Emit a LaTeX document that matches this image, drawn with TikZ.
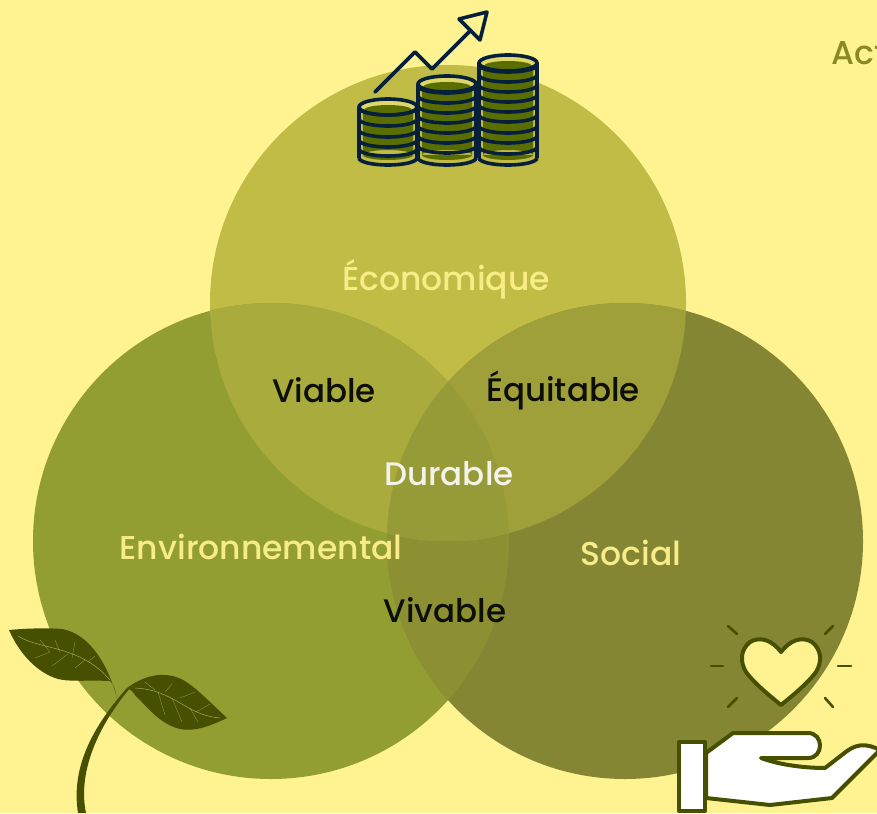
\documentclass[tikz,border=0pt]{standalone}
\usepackage{fontspec}
\setmainfont{Poppins Medium}
\definecolor{fondo}{HTML}{FFF391}
\definecolor{circE}{HTML}{C1BC45}
\definecolor{circA}{HTML}{929D32}
\definecolor{circS}{HTML}{848633}
\definecolor{solapaEA}{HTML}{A9AB3C}
\definecolor{solapaES}{HTML}{A0A03B}
\definecolor{solapaC}{HTML}{979B37}
\definecolor{solapaAS}{HTML}{8C9033}
\definecolor{oscuro}{HTML}{465000}
\definecolor{moneda}{HTML}{5A6E00}
\definecolor{marino}{HTML}{06203C}
\definecolor{vena}{HTML}{A8A85A}
\definecolor{textoA}{HTML}{8A8A25}
\tikzset{
  etiqueta/.style={font=\fontsize{33}{39}\selectfont,text=fondo!88!circE,inner sep=0pt},
  interior/.style={font=\fontsize{32.5}{39}\selectfont,text=black!90!circS,inner sep=0pt},
  raya/.style={draw=oscuro,line width=2.6pt,line cap=round},
  linea/.style={draw=oscuro,line width=4pt,line join=round},
  aro/.style={draw=marino,line width=3.6pt}
}
\begin{document}
\begin{tikzpicture}[x=1pt,y=-1pt]
    \useasboundingbox (0,0) rectangle (877,813);
    \clip (0,0) rectangle (877,813);
    \fill[fondo] (0,0) rectangle (877,813);

    \fill[circE] (448,303) circle (238);
    \fill[circA] (271,541) circle (238);
    \fill[circS] (625,541) circle (238);
    \begin{scope}
    \clip (271,541) circle (238);
    \fill[solapaAS] (625,541) circle (238);
    \end{scope}
    \begin{scope}
    \clip (448,303) circle (238);
    \fill[solapaEA] (271,541) circle (238);
    \fill[solapaES] (625,541) circle (238);
    \clip (271,541) circle (238);
    \fill[solapaC] (625,541) circle (238);
    \end{scope}

    % monedas
    \foreach \cx/\top/\rings in {508/63/{72,82,92,102,112,122,133,143,154,165},447/84/{93,103,113,123,133,143,153,165},388/107/{115,126,137,147,156,165}} {
      \fill[circE] (\cx-29,\top) rectangle (\cx+29,158) (\cx,158) ellipse (29 and 7);
      \fill[fondo!50!circE] (\cx,\top) ellipse (29 and 8);
      \fill[moneda] (\cx,\top+3) ellipse (24 and 5);
      \fill[moneda] (\cx-25,\top+3) rectangle (\cx+25,155) (\cx,155) ellipse (25 and 5);
      \draw[aro] (\cx-29,\top) -- (\cx-29,158) (\cx+29,\top) -- (\cx+29,158);
      \draw[aro] (\cx,\top) ellipse (29 and 8);
      \foreach \r in \rings
      \draw[aro] (\cx-29,\r-7) arc[start angle=180,end angle=0,x radius=29,y radius=7];
    }
    \draw[marino,line width=3.6pt,line cap=round,line join=round] (375,92) -- (415,52) -- (432,69) -- (469,32);
    \draw[marino,line width=3.6pt,line join=round] (459,19) -- (487,12) -- (480,40) -- cycle;

    % hojas
    \fill[oscuro] (78,813) .. controls (72,775) and (85,735) .. (127,688)
      -- (130,688) .. controls (95,730) and (78,775) .. (86,813) -- cycle;
    \fill[oscuro] (9,630) .. controls (30,628) and (50,628) .. (62,629)
      .. controls (90,634) and (108,665) .. (117,698)
      .. controls (115,690) and (114,684) .. (110,681)
      .. controls (90,680) and (70,682) .. (58,679)
      .. controls (38,673) and (20,655) .. (9,630) -- cycle;
    \fill[oscuro] (127,688) .. controls (140,678) and (155,674) .. (165,675)
      .. controls (185,676) and (195,688) .. (227,718)
      .. controls (210,726) and (195,732) .. (180,729)
      .. controls (160,724) and (148,708) .. (135,695)
      .. controls (132,691) and (130,689) .. (127,688) -- cycle;
    \draw[vena,line width=0.5pt] (18,636) .. controls (40,650) and (80,645) .. (110,680);
    \draw[vena,line width=0.25pt] (50,652) -- (40,640) (60,652) -- (55,640) (72,658) -- (75,642)
      (88,662) -- (95,656) (50,652) -- (35,658) (68,654) -- (52,666) (85,660) -- (75,668);
    \draw[vena,line width=0.5pt] (135,688) .. controls (175,690) and (185,715) .. (220,718);
    \draw[vena,line width=0.25pt] (155,690) -- (145,682) (165,692) -- (172,684) (180,698) -- (195,692)
      (158,692) -- (165,715) (172,698) -- (182,722) (190,708) -- (198,722) (196,712) -- (210,704);

    % corazon
    \filldraw[linea,fill=fondo] (781,652) .. controls (772,640) and (760,636) .. (750,642)
      .. controls (740,650) and (740,662) .. (746,672)
      .. controls (755,684) and (770,696) .. (781,705)
      .. controls (792,696) and (807,684) .. (816,672)
      .. controls (822,662) and (822,650) .. (812,642)
      .. controls (802,636) and (790,640) .. (781,652) -- cycle;
    \foreach \xa/\ya/\xb/\yb in {728/626/737/634,833/626/825/634,711/666/723/666,838/666/851/666,737/698/728/707,825/698/833/707}
    \draw[raya] (\xa,\ya) -- (\xb,\yb);

    % mano
    \filldraw[linea,fill=white] (706,753) -- (733,733) -- (808,733)
      .. controls (824,733) and (824,758) .. (808,758) -- (761,758)
      .. controls (780,765) and (805,768) .. (825,768)
      -- (847,751) .. controls (858,743) and (868,744) .. (880,750)
      -- (832,798) -- (770,805) -- (706,798) -- cycle;
    \filldraw[linea,fill=white] (679,742) rectangle (705,811);

    \node[etiqueta] (economique) at (446,279) {Économique};
    \node[etiqueta] (environnemental) at (261,547) {Environnemental};
    \node[etiqueta] (social) at (631,553) {Social};
    \node[interior] (viable) at (324,390) {Viable};
    \node[interior] (equitable) at (563,390) {Équitable};
    \node[interior] (vivable) at (445,610) {Vivable};
    \node[interior,text=white!90!circS] (durable) at (449,474) {Durable};
    \node[etiqueta,text=textoA,anchor=base west] (act) at (831,65) {Act};
\end{tikzpicture}
\end{document}
